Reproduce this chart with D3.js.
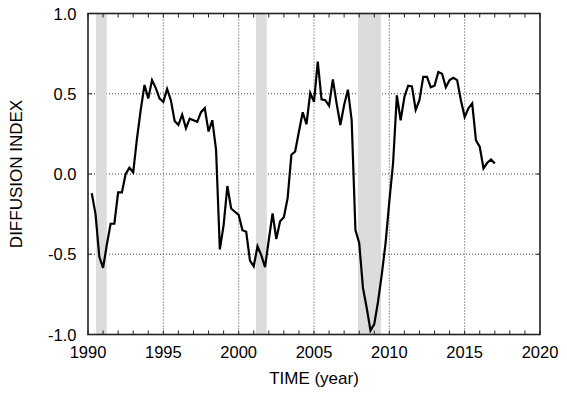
<!DOCTYPE html>
<html><head><meta charset="utf-8">
<script src="https://cdn.jsdelivr.net/npm/d3@7"></script>
<style>body{margin:0;background:#fff}svg{display:block}text{font-family:"Liberation Sans",Arial,sans-serif;fill:#000}</style>
</head><body><svg id="c" width="567" height="397"></svg>
<script>
const startTime = 1990.25;      // first quarter shown
const stepTime = 0.25;          // quarterly
const values = [
 -0.12,-0.25,-0.515,-0.585,-0.44,-0.31,-0.31,-0.115,-0.115,0.0,0.04,0.01,
 0.22,0.40,0.555,0.47,0.585,0.535,0.47,0.45,0.53,0.46,0.33,0.305,
 0.37,0.285,0.345,0.335,0.325,0.385,0.41,0.265,0.335,0.15,-0.47,-0.32,
 -0.075,-0.215,-0.235,-0.255,-0.35,-0.36,-0.54,-0.575,-0.45,-0.505,-0.58,-0.41,
 -0.245,-0.405,-0.295,-0.27,-0.15,0.12,0.14,0.265,0.385,0.31,0.505,0.45,
 0.70,0.465,0.46,0.425,0.59,0.44,0.305,0.43,0.525,0.335,-0.35,-0.43,
 -0.71,-0.835,-0.975,-0.935,-0.795,-0.625,-0.43,-0.17,0.07,0.49,0.335,0.48,
 0.55,0.545,0.40,0.46,0.605,0.605,0.54,0.55,0.635,0.625,0.54,0.585,
 0.60,0.585,0.46,0.355,0.41,0.44,0.21,0.17,0.035,0.07,0.09,0.065
];
const recessions = [[1990.53,1991.24],[2001.15,2001.86],[2007.92,2009.45]];
const xTicks = [1990,1995,2000,2005,2010,2015,2020];
const xMinorTicks = d3.range(1990,2021,1);
const yTicks = [-1.0,-0.5,0.0,0.5,1.0];
const xTitle = "TIME (year)";
const yTitle = "DIFFUSION INDEX";

const data = values.map((v,i)=>({t:startTime+i*stepTime,v}));
const L=88,R=540,T=13.5,B=334.5;
const svg=d3.select("#c");
const x=d3.scaleLinear().domain([1990,2020]).range([L,R]);
const y=d3.scaleLinear().domain([-1,1]).range([B,T]);

// grid
const g=svg.append("g");
g.selectAll(".gx").data(xTicks.filter(d=>d>1990&&d<2020)).join("line")
 .attr("x1",d=>x(d)).attr("x2",d=>x(d)).attr("y1",T).attr("y2",B)
 .attr("stroke","#444").attr("stroke-width",1).attr("stroke-dasharray","1,2");
g.selectAll(".gy").data(yTicks.filter(d=>d>-1&&d<1)).join("line")
 .attr("x1",L).attr("x2",R).attr("y1",d=>y(d)).attr("y2",d=>y(d))
 .attr("stroke","#444").attr("stroke-width",1).attr("stroke-dasharray","1,2");

// recession bands
svg.append("g").selectAll("rect").data(recessions).join("rect")
 .attr("x",d=>x(d[0])).attr("width",d=>x(d[1])-x(d[0]))
 .attr("y",T).attr("height",B-T).attr("fill","#dcdcdc");

// minor ticks top & bottom (inward)
const tk=svg.append("g").attr("stroke","#222").attr("stroke-width",1);
tk.selectAll(".tb").data(xMinorTicks).join("line")
 .attr("x1",d=>x(d)).attr("x2",d=>x(d)).attr("y1",B).attr("y2",B-4);
tk.selectAll(".tt").data(xMinorTicks).join("line")
 .attr("x1",d=>x(d)).attr("x2",d=>x(d)).attr("y1",T).attr("y2",T+4);
tk.selectAll(".tl").data(yTicks).join("line")
 .attr("x1",L).attr("x2",L+4).attr("y1",d=>y(d)).attr("y2",d=>y(d));
tk.selectAll(".tr").data(yTicks).join("line")
 .attr("x1",R).attr("x2",R-4).attr("y1",d=>y(d)).attr("y2",d=>y(d));

// data line
svg.append("path").datum(data)
 .attr("d",d3.line().x(d=>x(d.t)).y(d=>y(d.v)))
 .attr("fill","none").attr("stroke","#000").attr("stroke-width",2.2)
 .attr("stroke-linejoin","miter");

// frame
svg.append("rect").attr("x",L).attr("y",T).attr("width",R-L).attr("height",B-T)
 .attr("fill","none").attr("stroke","#222").attr("stroke-width",1.6);

// tick labels
svg.append("g").selectAll("text").data(xTicks).join("text")
 .attr("x",d=>x(d)).attr("y",358).attr("text-anchor","middle")
 .attr("font-size","16.5px").text(d=>d);
svg.append("g").selectAll("text").data(yTicks).join("text")
 .attr("x",76.5).attr("y",d=>y(d)+6).attr("text-anchor","end")
 .attr("font-size","16.5px").text(d=>d3.format(".1f")(d).replace("−","-"));

// titles
svg.append("text").attr("x",(L+R)/2).attr("y",384).attr("text-anchor","middle")
 .attr("font-size","17px").text(xTitle);
svg.append("text").attr("transform",`translate(22,${(T+B)/2}) rotate(-90)`)
 .attr("text-anchor","middle").attr("font-size","17px").text(yTitle);
</script></body></html>
